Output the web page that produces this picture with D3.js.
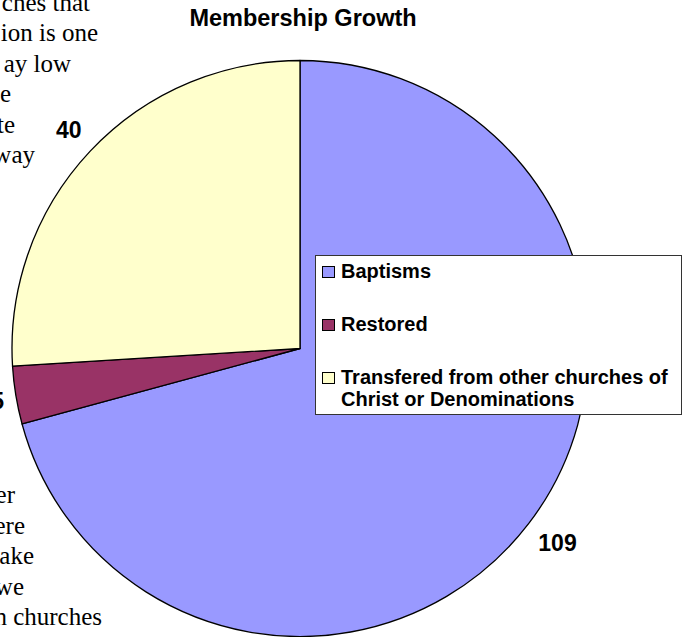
<!DOCTYPE html>
<html>
<head>
<meta charset="utf-8">
<script src="https://cdn.jsdelivr.net/npm/d3@7"></script>
<style>
  html, body { margin: 0; padding: 0; background: #fff; overflow: hidden; }
  svg { display: block; }
</style>
</head>
<body>
<svg id="chart" width="691" height="637"></svg>
<script>
// ---- data ----
const title = "Membership Growth";
const categories = ["Baptisms", "Restored", "Transfered from other churches of Christ or Denominations"];
const legendLines = [["Baptisms"], ["Restored"], ["Transfered from other churches of", "Christ or Denominations"]];
const values = [109, 5, 40];
const colors = ["#9999FF", "#993366", "#FFFFCC"];

// surrounding document text visible at the left edge
const noteTop = ["ches that", "ion is one", "ay low", "e", "te", "way"];
const noteBottom = ["er", "ere", "ake", "we", "n churches"];

// ---- layout ----
const W = 691, H = 637;
const cx = 300, cy = 348.5, R = 288;
const noteTopEnds = [90, 98, 71, 11, 15, 35];
const noteBottomEnds = [15, 25, 34, 24, 102];

const svg = d3.select("#chart");
const sans = "'Liberation Sans', Arial, Helvetica, sans-serif";
const serif = "'Liberation Serif', 'Times New Roman', serif";

// document text behind the chart
const note = svg.append("g")
  .attr("font-family", serif)
  .attr("font-size", 25)
  .attr("fill", "#000")
  .attr("text-anchor", "end");
note.selectAll("text.top").data(noteTop).join("text")
  .attr("class", "top")
  .attr("x", (d, i) => noteTopEnds[i])
  .attr("y", (d, i) => 11 + i * 30.4)
  .text(d => d);
note.selectAll("text.bottom").data(noteBottom).join("text")
  .attr("class", "bottom")
  .attr("x", (d, i) => noteBottomEnds[i])
  .attr("y", (d, i) => 503 + i * 30.5)
  .text(d => d);

// title
svg.append("text")
  .attr("x", 303).attr("y", 26)
  .attr("text-anchor", "middle")
  .attr("font-family", sans)
  .attr("font-weight", "bold")
  .attr("font-size", 23.5)
  .text(title);

// pie
const pie = d3.pie().sort(null).value(d => d.value);
const arcs = pie(values.map((v, i) => ({ name: categories[i], value: v, color: colors[i] })));
const arc = d3.arc().innerRadius(0).outerRadius(R);

const g = svg.append("g").attr("transform", `translate(${cx},${cy})`);
g.selectAll("path").data(arcs).join("path")
  .attr("d", arc)
  .attr("fill", d => d.data.color)
  .attr("stroke", "#000")
  .attr("stroke-width", 1.3)
  .attr("stroke-linejoin", "round");

// value labels placed just outside the rim
const labelSize = 23;
const capH = labelSize * 0.716;
const labels = g.append("g")
  .attr("font-family", sans)
  .attr("font-weight", "bold")
  .attr("font-size", labelSize)
  .attr("text-anchor", "middle");
labels.selectAll("text").data(arcs).join("text")
  .text(d => d.data.value)
  .each(function (d) {
    const a = (d.startAngle + d.endAngle) / 2;
    const dx = Math.sin(a), dy = -Math.cos(a);
    const w = this.getComputedTextLength();
    const px = dx * (R + 12), py = dy * (R + 12);
    const x = px + Math.sign(dx) * w / 2;
    const yc = py + dy * capH * 1.2;
    d3.select(this).attr("x", x).attr("y", yc + capH / 2);
  });

// legend
const lg = svg.append("g").attr("font-family", sans).attr("font-weight", "bold").attr("font-size", 20);
lg.append("rect")
  .attr("x", 315.5).attr("y", 255.5)
  .attr("width", 366).attr("height", 159)
  .attr("fill", "#fff")
  .attr("stroke", "#333")
  .attr("stroke-width", 1);
const items = lg.selectAll("g.item").data(legendLines).join("g")
  .attr("class", "item")
  .attr("transform", (d, i) => `translate(0, ${278 + i * 53})`);
items.append("rect")
  .attr("x", 322.5).attr("y", -11.5)
  .attr("width", 12).attr("height", 11)
  .attr("fill", (d, i) => colors[i])
  .attr("stroke", "#000")
  .attr("stroke-width", 1);
items.each(function (lines) {
  const t = d3.select(this).append("text").attr("x", 341).attr("y", 0);
  lines.forEach((line, j) => {
    t.append("tspan").attr("x", 341).attr("dy", j === 0 ? 0 : 21.5).text(line);
  });
});
</script>
</body>
</html>
